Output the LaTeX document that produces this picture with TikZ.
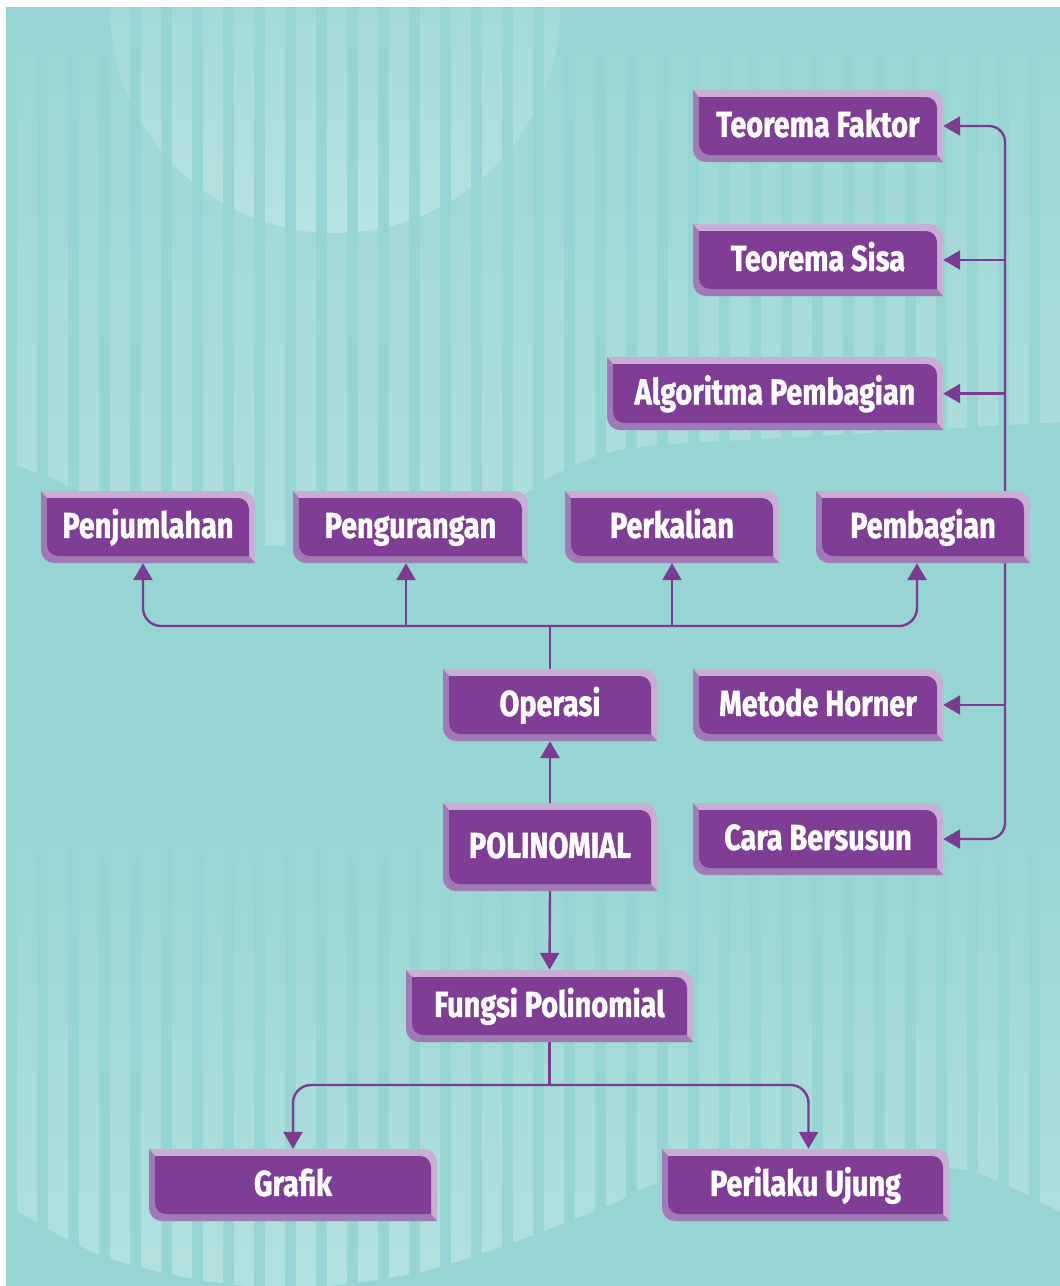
\documentclass[tikz,border=0pt]{standalone}
\usepackage{fontspec}
\usetikzlibrary{arrows.meta,calc}
\newfontfamily\boxfont[FakeStretch=0.8,FakeBold=1.2]{Fira Sans}
\definecolor{bgteal}{HTML}{97D5D2}
\definecolor{stA}{HTML}{9CD7D4}
\definecolor{stB}{HTML}{B0DFDC}
\definecolor{ciA}{HTML}{A3DAD7}
\definecolor{ciB}{HTML}{B8E3E0}
\definecolor{sbB}{HTML}{B3E1DE}
\definecolor{bevmain}{HTML}{7F3D96}
\definecolor{bevlite}{HTML}{C8AED5}
\definecolor{bevdark}{HTML}{A07AB6}
\definecolor{linec}{HTML}{7C3A93}
\pgfdeclarelayer{bglayer}
\pgfdeclarelayer{connlayer}
\pgfsetlayers{bglayer,connlayer,main}
\tikzset{
  boxtext/.style={inner sep=0pt, text=white, font=\boxfont\bfseries\fontsize{36}{40}\selectfont,
    text height=24.8pt, text depth=3pt},
  conn/.style={draw=linec, line width=2.4pt},
  >={Triangle[width=19pt,length=17pt]}
}
\newcommand\bevnode[6]{%
  \fill[bevlite] (#2,#3) -- (#4-13,#3) arc[start angle=-90,end angle=0,radius=13] -- (#4,#5) -- (#2+13,#5) arc[start angle=90,end angle=180,radius=13] -- cycle;
  \fill[bevdark] (#2,#3) -- (#2+6,#3+7) -- (#4-6,#5-7) -- (#4,#5) -- (#2+13,#5) arc[start angle=90,end angle=180,radius=13] -- cycle;
  \fill[bevmain] (#2+6,#3+7) -- (#4-17,#3+7) arc[start angle=-90,end angle=0,radius=11] -- (#4-6,#5-7) -- (#2+17,#5-7) arc[start angle=90,end angle=180,radius=11] -- cycle;
  \node[boxtext, minimum width={(#4-#2)*1pt}, minimum height={(#5-#3)*1pt}] (#1) at ({(#2+#4)/2},{(#3+#5)/2}) {#6};
}
\begin{document}
\begin{tikzpicture}[x=1pt,y=-1pt]
\useasboundingbox (0,0) rectangle (1060,1286);
\begin{pgfonlayer}{bglayer}
  \fill[white] (0,0) rectangle (1060,1286);
  \fill[bgteal] (6,7) rectangle (1060,1286);
  \begin{scope}
    \clip (6,7) rectangle (1060,1286);
    % top stripes
    \begin{scope}
      \clip (6,57) -- (6,462) -- plot[smooth] coordinates {(6,462) (60,482) (110,512) (200,538) (300,546) (420,532) (507,504) (560,472) (630,448) (800,437) (1060,422)} -- (1060,57) -- cycle;
      \foreach \i in {0,...,34} \shade[top color=stA, bottom color=stB] ({17+31*\i},57) rectangle ++(20,500);
    \end{scope}
    % top circle
    \begin{scope}
      \clip (335,8) circle[radius=225];
      \foreach \i in {0,...,18} \shade[top color=ciA, bottom color=ciB] ({17+31*\i},7) rectangle ++(20,230);
    \end{scope}
    % bottom stripes
    \begin{scope}
      \clip (6,800) -- (6,1205) -- plot[smooth] coordinates {(6,1205) (100,1255) (200,1280) (300,1288) (420,1272) (520,1240) (610,1205) (660,1183) (800,1160) (950,1168) (1000,1182) (1060,1212)} -- (1060,800) -- cycle;
      \foreach \i in {0,...,34} \shade[top color=bgteal, bottom color=sbB] ({17+31*\i},805) rectangle ++(20,485);
    \end{scope}
  \end{scope}
\end{pgfonlayer}

\bevnode{tf}{693}{90}{943}{162}{Teorema Faktor}
\bevnode{ts}{693}{224}{943}{296}{Teorema Sisa}
\bevnode{ap}{607}{357}{943}{430}{Algoritma Pembagian}
\bevnode{pj}{41}{491}{255}{563}{Penjumlahan}
\bevnode{pg}{293}{491}{528}{563}{Pengurangan}
\bevnode{pk}{565}{491}{779}{563}{Perkalian}
\bevnode{pb}{816}{491}{1030}{563}{Pembagian}
\bevnode{op}{443}{669}{657}{741}{Operasi}
\bevnode{mh}{693}{669}{943}{741}{Metode Horner}
\bevnode{pol}{443}{803}{657}{891}{POLINOMIAL}
\bevnode{cb}{693}{803}{943}{875}{Cara Bersusun}
\bevnode{fp}{406}{970}{693}{1042}{Fungsi Polinomial}
\bevnode{gr}{149}{1149}{437}{1221}{Grafik}
\bevnode{pu}{662}{1149}{949}{1221}{Perilaku Ujung}

\coordinate (bus) at (1005,527);
\coordinate (fan) at (550,626);
\coordinate (fan2) at (549.5,1085);
\coordinate (pjA) at ($(pj.south)+(-5,0)$);
\coordinate (pgA) at ($(pg.south)+(-4.5,0)$);
\coordinate (pkA) at (pk.south);
\coordinate (pbA) at ($(pb.south)+(-6,0)$);
\coordinate (puA) at ($(pu.north)+(3,0)$);

\begin{pgfonlayer}{connlayer}
  \draw[conn,<->,rounded corners=16pt] (tf.east) -| (bus) |- (cb.east);
  \draw[conn,->] (bus |- ts.east) -- (ts.east);
  \draw[conn,->] (bus |- ap.east) -- (ap.east);
  \draw[conn,->] (bus |- mh.east) -- (mh.east);
  \draw[conn,<->,rounded corners=18pt] (pjA) |- (fan) -| (pbA);
  \draw[conn] (op.north) -- (fan);
  \draw[conn,->] (pgA |- fan) -- (pgA);
  \draw[conn,->] (pkA |- fan) -- (pkA);
  \draw[conn,->] (pol.north) -- (op.south);
  \draw[conn,->] (pol.south) -- (fp.north);
  \draw[conn] (fp.south) -- (fan2);
  \draw[conn,<->,rounded corners=18pt] (gr.north) |- (fan2) -| (puA);
\end{pgfonlayer}
\end{tikzpicture}
\end{document}
